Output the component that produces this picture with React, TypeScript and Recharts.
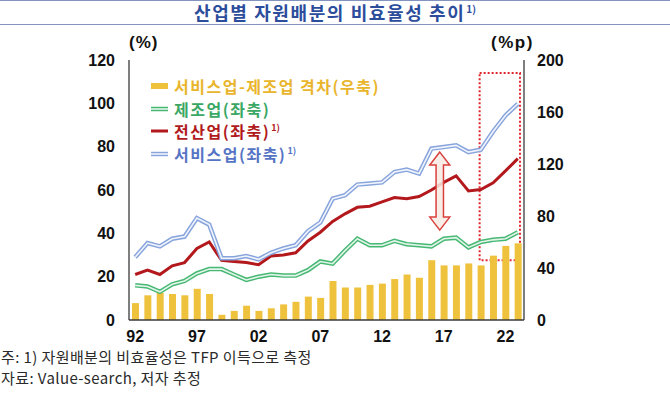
import React from 'react';
import { Bar, ComposedChart, Legend, Line, ReferenceArea, ReferenceLine, XAxis, YAxis } from 'recharts';

const years = [
    '92', '93', '94', '95', '96', '97', '98', '99', '00', '01', '02', '03', '04', '05', '06', '07',
    '08', '09', '10', '11', '12', '13', '14', '15', '16', '17', '18', '19', '20', '21', '22', '23',
];
// 서비스업-제조업 격차 (%p, 우축)
const serviceGap = [
    13, 19, 21, 20, 19, 24, 20, 4, 7, 11, 7, 9, 12, 14, 18, 17,
    30, 25, 25, 27, 28, 31.5, 35, 32.5, 46, 42, 42, 43.5, 42, 49.5, 57, 59,
];
// 제조업 (%, 좌축)
const manufacturing = [
    16, 15.5, 13, 16.5, 18, 21.5, 23.5, 23.5, 21, 18.5, 20, 21, 20.5, 20.5, 23, 27,
    26, 32, 37.5, 34.5, 34.5, 36.5, 35, 34.5, 34, 37.5, 38, 33.5, 36, 37, 37.5, 40.5,
];
// 전산업 (%, 좌축)
const allIndustry = [
    21, 23, 21, 25, 26.5, 33, 36, 27.5, 27, 26.5, 25.5, 29.5, 30, 31, 36.5, 40.5,
    45.5, 49, 52, 52.5, 54.5, 56.5, 56, 57, 60, 63.5, 66.5, 59.6, 60.2, 63.3, 68.8, 74.5,
];
// 서비스업 (%, 좌축)
const services = [
    29, 35.5, 34, 37.5, 38.5, 47, 44, 28.5, 28.5, 29.5, 28, 31, 33, 34.5, 41, 45,
    56, 57.6, 62.5, 63, 63.5, 68.3, 69.4, 67.6, 79.1, 79.8, 80.6, 77.5, 78.6, 87, 94.4, 99.8,
];
const leftTicks = [0, 20, 40, 60, 80, 100, 120];
const rightTicks = [0, 40, 80, 120, 160, 200];
const highlightYears = ['20', '23'];
const highlightRange = [27.6, 114];
const arrowYear = '17';
const arrowRange = [77.5, 41.5];

const data = years.map((year, i) => ({
    year,
    gap: serviceGap[i],
    mfg: manufacturing[i],
    all: allIndustry[i],
    svc: services[i],
}));

const KR = '"Noto Sans CJK KR", "Noto Sans", sans-serif';
const NUM = '"Liberation Sans", Arial, sans-serif';
const axisStroke = '#3a3a3a';
const tickStyle = { fontSize: 16, fontWeight: 700, fill: '#111', fontFamily: NUM };

const legendItems = [
    { label: '서비스업-제조업 격차(우축)', color: '#e9b52c', kind: 'bar', note: false },
    { label: '제조업(좌축)', color: '#3aa864', kind: 'double', outer: '#47b874', inner: '#e3f5ea', note: false },
    { label: '전산업(좌축)', color: '#b11a1c', kind: 'line', note: true },
    { label: '서비스업(좌축)', color: '#5674c4', kind: 'double', outer: '#88a4dc', inner: '#f0f4fc', note: true },
];

function Sup() {
    return <span style={{ fontSize: 9, position: 'relative', top: -7, marginLeft: 1, letterSpacing: 0 }}>1)</span>;
}

function LegendBox() {
    return (
        <div style={{ fontFamily: KR, fontWeight: 700, textAlign: 'left' }}>
            {legendItems.map((it) => (
                <div key={it.label} style={{ display: 'flex', alignItems: 'center', height: 22.5 }}>
                    <svg width={24} height={10}>
                        {it.kind === 'bar' && <rect x={1} y={2} width={17} height={6} fill="#efc23e" />}
                        {it.kind === 'line' && <line x1={1} x2={18} y1={5} y2={5} stroke="#b3191c" strokeWidth={3} />}
                        {it.kind === 'double' && (
                            <g>
                                <line x1={1} x2={18} y1={5} y2={5} stroke={it.outer} strokeWidth={4.5} />
                                <line x1={1} x2={18} y1={5} y2={5} stroke={it.inner} strokeWidth={1.6} />
                            </g>
                        )}
                    </svg>
                    <span style={{ fontSize: 16, color: it.color, letterSpacing: 1.5, whiteSpace: 'nowrap' }}>
                        {it.label}
                        {it.note && <Sup />}
                    </span>
                </div>
            ))}
        </div>
    );
}

function DoubleArrow(props: any) {
    const { x1, y1, y2 } = props;
    const cx = x1 - 4;
    const top = Math.min(y1, y2);
    const bottom = Math.max(y1, y2);
    const hw = 10;
    const sw = 3.7;
    const hh = 13;
    const d = `M${cx},${top} L${cx + hw},${top + hh} L${cx + sw},${top + hh} L${cx + sw},${bottom - hh} L${cx + hw},${bottom - hh} L${cx},${bottom} L${cx - hw},${bottom - hh} L${cx - sw},${bottom - hh} L${cx - sw},${top + hh} L${cx - hw},${top + hh} Z`;
    return <path d={d} fill="#f8ebe3" fillOpacity={0.85} stroke="#d9403c" strokeWidth={1.5} />;
}

function DottedBox(props: any) {
    const { x, y, width, height } = props;
    return (
        <rect x={x + 5} y={y} width={width - 9} height={height} fill="none" stroke="#e0262b" strokeWidth={2} strokeDasharray="2 2" />
    );
}

export default function App() {
    return (
        <div style={{ position: 'absolute', left: 0, top: 0, width: 670, height: 393, background: '#fff', overflow: 'hidden' }}>
            <div
                style={{
                    position: 'absolute',
                    left: 0,
                    top: 0,
                    width: 670,
                    height: 23,
                    borderTop: '1.5px solid #8293bd',
                    borderBottom: '1.5px solid #8293bd',
                    textAlign: 'center',
                    fontFamily: KR,
                    fontWeight: 700,
                    fontSize: 18,
                    lineHeight: '22px',
                    color: '#2c4d9c',
                    letterSpacing: 1.6,
                }}
            >
                산업별 자원배분의 비효율성 추이
                <span style={{ fontSize: 10, position: 'relative', top: -7, marginLeft: 1, letterSpacing: 0 }}>1)</span>
            </div>
            <div style={{ position: 'absolute', left: 129, top: 33, fontFamily: NUM, fontWeight: 700, fontSize: 17, color: '#111', letterSpacing: 1 }}>
                (%)
            </div>
            <div style={{ position: 'absolute', left: 491, top: 33, fontFamily: NUM, fontWeight: 700, fontSize: 17, color: '#111', letterSpacing: 1.5 }}>
                (%p)
            </div>
            <ComposedChart
                width={670}
                height={393}
                data={data}
                margin={{ top: 60, right: 0, bottom: 43, left: 0 }}
                style={{ position: 'absolute', left: 0, top: 0 }}
            >
                <XAxis
                    dataKey="year"
                    interval={4}
                    height={30}
                    tickLine={false}
                    tickSize={0}
                    tickMargin={11}
                    axisLine={{ stroke: axisStroke, strokeWidth: 1.3 }}
                    tick={tickStyle}
                />
                <XAxis xAxisId="top" dataKey="year" orientation="top" height={0} tick={false} tickLine={false} axisLine={{ stroke: axisStroke, strokeWidth: 1.3 }} />
                <YAxis
                    yAxisId="left"
                    width={129}
                    domain={[0, 120]}
                    ticks={leftTicks}
                    tickLine={false}
                    tickSize={0}
                    tickMargin={14}
                    axisLine={{ stroke: axisStroke, strokeWidth: 1.3 }}
                    tick={tickStyle}
                />
                <YAxis
                    yAxisId="right"
                    orientation="right"
                    width={146}
                    domain={[0, 200]}
                    ticks={rightTicks}
                    tickLine={false}
                    tickSize={0}
                    tickMargin={13}
                    axisLine={{ stroke: axisStroke, strokeWidth: 1.3 }}
                    tick={tickStyle}
                />
                <Legend
                    layout="vertical"
                    verticalAlign="middle"
                    align="center"
                    wrapperStyle={{ top: 75, left: 150, width: 300 }}
                    content={() => <LegendBox />}
                />
                <Bar yAxisId="right" dataKey="gap" name="서비스업-제조업 격차" fill="#efc23e" barSize={7} isAnimationActive={false} />
                <Line yAxisId="left" dataKey="mfg" name="제조업" stroke="#47b874" strokeWidth={4.5} dot={false} activeDot={false} isAnimationActive={false} />
                <Line yAxisId="left" dataKey="mfg" name="제조업 inner" stroke="#e3f5ea" strokeWidth={1.6} dot={false} activeDot={false} isAnimationActive={false} />
                <Line yAxisId="left" dataKey="all" name="전산업" stroke="#b3191c" strokeWidth={3} dot={false} activeDot={false} isAnimationActive={false} />
                <Line yAxisId="left" dataKey="svc" name="서비스업" stroke="#88a4dc" strokeWidth={4.5} dot={false} activeDot={false} isAnimationActive={false} />
                <Line yAxisId="left" dataKey="svc" name="서비스업 inner" stroke="#f0f4fc" strokeWidth={1.6} dot={false} activeDot={false} isAnimationActive={false} />
                <ReferenceArea
                    yAxisId="left"
                    x1={highlightYears[0]}
                    x2={highlightYears[1]}
                    y1={highlightRange[0]}
                    y2={highlightRange[1]}
                    shape={DottedBox}
                    ifOverflow="visible"
                />
                <ReferenceLine
                    yAxisId="left"
                    segment={[
                        { x: arrowYear, y: arrowRange[0] },
                        { x: arrowYear, y: arrowRange[1] },
                    ]}
                    shape={DoubleArrow}
                    ifOverflow="visible"
                />
            </ComposedChart>
            <div style={{ position: 'absolute', left: 1, top: 346, fontFamily: KR, fontSize: 15, color: '#2a2a2a', lineHeight: '21px', letterSpacing: 0.4 }}>
                <div>주: 1) 자원배분의 비효율성은 TFP 이득으로 측정</div>
                <div>자료: Value-search, 저자 추정</div>
            </div>
        </div>
    );
}
